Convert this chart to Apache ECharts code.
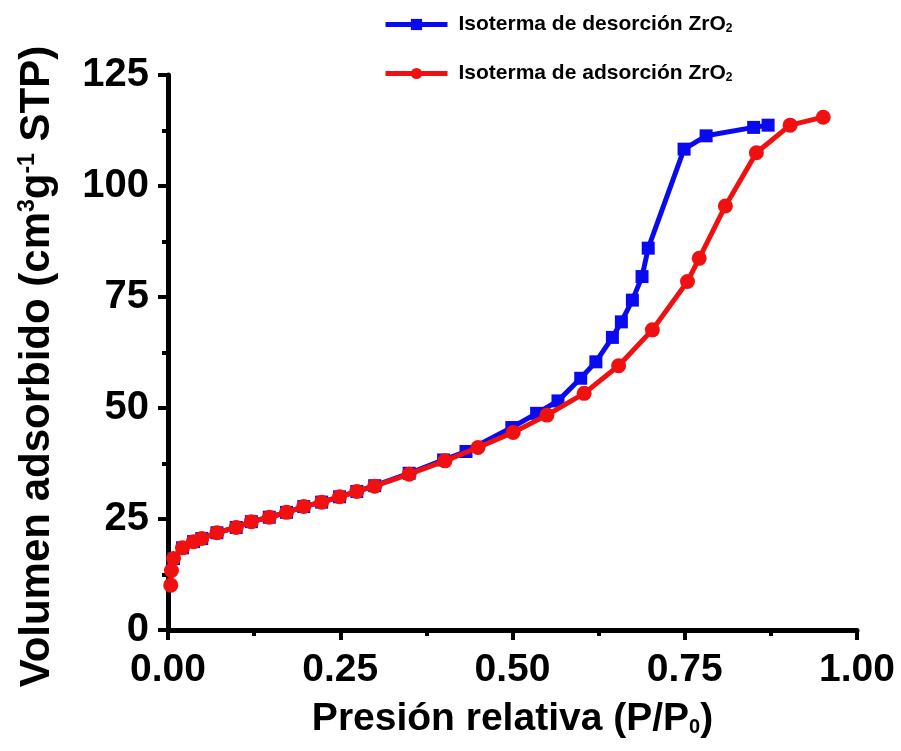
<!DOCTYPE HTML>
<html>
<head>
    <meta charset="UTF-8">
    <title>Isoterma ZrO2</title>
    <style>
        body{ margin:0; background-color:#ffffff; }
        #main{ width:901px; height:751px; }
    </style>
    <script src="https://cdn.jsdelivr.net/npm/echarts@6/dist/echarts.min.js"></script>
</head>
<body>
<div id="main"></div>
<script type="text/javascript">
    // desorcion (azul)
    var desPressure = [0.008, 0.021, 0.037, 0.049, 0.071, 0.099, 0.121, 0.147, 0.172, 0.197, 0.223, 0.249, 0.274, 0.30, 0.35, 0.40, 0.4325,
        0.499, 0.535, 0.566, 0.599, 0.621, 0.645, 0.658, 0.674, 0.688, 0.697, 0.749, 0.781, 0.850, 0.871];
    var desVolume = [16.1, 18.5, 19.9, 20.6, 21.9, 23.1, 24.4, 25.4, 26.5, 27.8, 28.8, 30.0, 31.2, 32.5, 35.3, 38.3, 40.2,
        45.6, 48.8, 51.6, 56.7, 60.4, 65.9, 69.4, 74.3, 79.6, 86.0, 108.3, 111.3, 113.2, 113.7];
    // adsorcion (rojo)
    var adsPressure = [0.004, 0.005, 0.008, 0.021, 0.037, 0.049, 0.071, 0.099, 0.121, 0.147, 0.172, 0.197, 0.223, 0.249, 0.274, 0.30,
        0.35, 0.402, 0.45, 0.501, 0.550, 0.604, 0.654, 0.703, 0.754, 0.771, 0.809, 0.854, 0.903, 0.951];
    var adsVolume = [10.1, 13.4, 16.1, 18.5, 19.9, 20.6, 21.9, 23.1, 24.4, 25.4, 26.5, 27.8, 28.8, 30.0, 31.2, 32.4,
        35.1, 38.1, 41.1, 44.5, 48.4, 53.3, 59.5, 67.6, 78.5, 83.7, 95.5, 107.5, 113.7, 115.5];
    var seriesNames = ['Isoterma de desorción ZrO2', 'Isoterma de adsorción ZrO2'];

    function pairs(xs, ys){
        return xs.map(function(x, i){ return [x, ys[i]]; });
    }

    var font = 'Liberation Sans, Arial, sans-serif';
    var myChart = echarts.init(document.getElementById('main'));
    var option = {
        backgroundColor: '#ffffff',
        animation: false,
        textStyle: { fontFamily: font },
        legend: {
            data: seriesNames,
            orient: 'vertical',
            left: 378,
            top: 9,
            itemWidth: 62,
            itemHeight: 14,
            itemGap: 28,
            lineStyle: { width: 5 },
            formatter: function(name){ return '{t|' + name.replace('ZrO2', 'ZrO}{s|2}'); },
            textStyle: {
                padding: [0, 0, 0, 6],
                rich: {
                    t: { fontSize: 21, fontWeight: 'bold', color: '#000', fontFamily: font },
                    s: { fontSize: 12, fontWeight: 'bold', color: '#000', fontFamily: font, padding: [8, 0, 0, 0] }
                }
            }
        },
        grid: { left: 168, right: 44, top: 75, bottom: 121 },
        xAxis: {
            type: 'value',
            min: 0, max: 1, interval: 0.25,
            name: '{t|Presión relativa (P/P}{s|0}{t|)}',
            nameLocation: 'middle',
            nameGap: 70,
            nameTextStyle: {
                rich: {
                    t: { fontSize: 39, fontWeight: 'bold', color: '#000', fontFamily: font },
                    s: { fontSize: 20, fontWeight: 'bold', color: '#000', fontFamily: font, padding: [16, 0, 0, 0] }
                }
            },
            axisLine: { lineStyle: { color: '#000', width: 5 } },
            axisTick: { length: 10, lineStyle: { color: '#000', width: 4 } },
            minorTick: { show: true, splitNumber: 2, length: 6, lineStyle: { color: '#000', width: 4 } },
            splitLine: { show: false },
            axisLabel: {
                margin: 21, fontSize: 39, fontWeight: 'bold', color: '#000', fontFamily: font,
                formatter: function(v){ return v.toFixed(2); }
            }
        },
        yAxis: {
            type: 'value',
            min: 0, max: 125, interval: 25,
            name: '{t|Volumen adsorbido (cm}{s|3}{t|g}{s|-1}{t| STP)}',
            nameLocation: 'middle',
            nameGap: 110,
            nameTextStyle: {
                padding: [0, 28, 0, 0],
                rich: {
                    t: { fontSize: 42, fontWeight: 'bold', color: '#000', fontFamily: font },
                    s: { fontSize: 23, fontWeight: 'bold', color: '#000', fontFamily: font, padding: [0, 0, 18, 0] }
                }
            },
            axisLine: { lineStyle: { color: '#000', width: 5 } },
            axisTick: { length: 10, lineStyle: { color: '#000', width: 4 } },
            minorTick: { show: true, splitNumber: 2, length: 6, lineStyle: { color: '#000', width: 4 } },
            splitLine: { show: false },
            axisLabel: { margin: 19, fontSize: 40, fontWeight: 'bold', color: '#000', fontFamily: font }
        },
        series: [
            {
                name: seriesNames[0],
                type: 'line',
                data: pairs(desPressure, desVolume),
                symbol: 'rect',
                symbolSize: 13,
                z: 2,
                itemStyle: { color: '#0a0af0' },
                lineStyle: { color: '#0a0af0', width: 5 }
            },
            {
                name: seriesNames[1],
                type: 'line',
                data: pairs(adsPressure, adsVolume),
                symbol: 'circle',
                symbolSize: 15,
                z: 3,
                itemStyle: { color: '#f01010' },
                lineStyle: { color: '#f01010', width: 5 }
            }
        ]
    };
    myChart.setOption(option);
</script>
</body>
</html>
